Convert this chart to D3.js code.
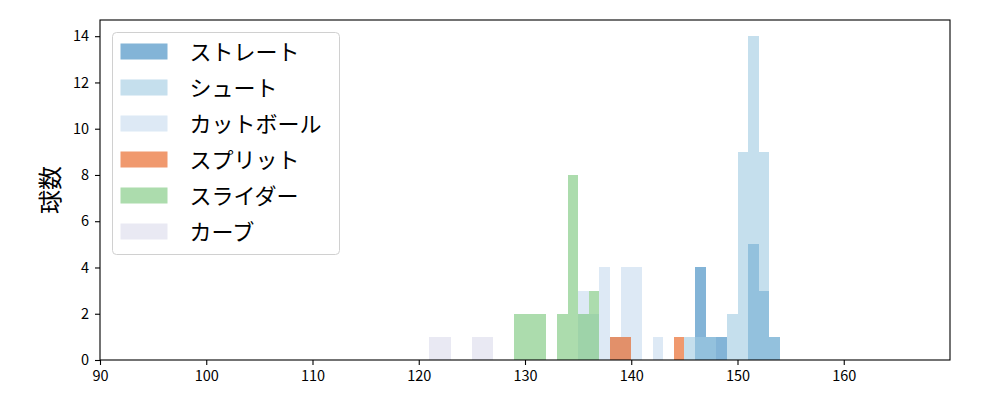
<!DOCTYPE html>
<html>
<head>
<meta charset="utf-8">
<script src="https://cdn.jsdelivr.net/npm/d3@7"></script>
<style>
  body { margin: 0; background: #fff; }
  text { font-family: "Noto Sans CJK JP", "DejaVu Sans", sans-serif; }
</style>
</head>
<body>
<div id="chart"></div>
<script>
// pitch types, in drawing order
var pitchTypes = ["ストレート", "シュート", "カットボール", "スプリット", "スライダー", "カーブ"];
var pitchColors = ["#3182bd", "#9ecae1", "#c6dbef", "#e6550d", "#74c476", "#dadaeb"];

// histogram bins (1 km/h wide, left edge) and counts per pitch type
var straightBins = [146, 147, 148, 151, 152, 153];
var straightCounts = [4, 1, 1, 5, 3, 1];
var shootBins = [145, 146, 147, 149, 150, 151, 152, 153];
var shootCounts = [1, 1, 1, 2, 9, 14, 9, 1];
var cutBins = [135, 136, 137, 138, 139, 140, 142];
var cutCounts = [3, 2, 4, 1, 4, 4, 1];
var splitBins = [138, 139, 144];
var splitCounts = [1, 1, 1];
var sliderBins = [129, 130, 131, 133, 134, 135, 136];
var sliderCounts = [2, 2, 2, 2, 8, 2, 3];
var curveBins = [121, 122, 125, 126];
var curveCounts = [1, 1, 1, 1];

var xTicks = [90, 100, 110, 120, 130, 140, 150, 160];
var yTicks = [0, 2, 4, 6, 8, 10, 12, 14];

var allBins = [straightBins, shootBins, cutBins, splitBins, sliderBins, curveBins];
var allCounts = [straightCounts, shootCounts, cutCounts, splitCounts, sliderCounts, curveCounts];

var svgWidth = 1000;
var svgHeight = 400;
var margin = { top: 20, right: 50, bottom: 40, left: 100 };
var width = svgWidth - margin.left - margin.right;
var height = svgHeight - margin.top - margin.bottom;

var svg = d3.select("#chart")
  .append("svg")
  .attr("width", svgWidth)
  .attr("height", svgHeight);

var chartGroup = svg.append("g")
  .attr("transform", `translate(${margin.left}, ${margin.top})`);

var xScale = d3.scaleLinear().domain([90, 170]).range([0, width]);
var yScale = d3.scaleLinear().domain([0, 14.7]).range([height, 0]);

// bars, one group per pitch type
pitchTypes.forEach(function(name, i) {
  var rows = allBins[i].map(function(b, j) { return { x0: b, x1: b + 1, n: allCounts[i][j] }; });
  chartGroup.append("g")
    .selectAll("rect")
    .data(rows)
    .enter()
    .append("rect")
    .attr("x", d => xScale(d.x0))
    .attr("width", d => xScale(d.x1) - xScale(d.x0))
    .attr("y", d => yScale(d.n))
    .attr("height", d => yScale(0) - yScale(d.n))
    .attr("fill", pitchColors[i])
    .attr("fill-opacity", 0.6)
    .attr("shape-rendering", "crispEdges");
});

// axes
var bottomAxis = d3.axisBottom(xScale).tickValues(xTicks).tickSize(5).tickPadding(6);
var leftAxis = d3.axisLeft(yScale).tickValues(yTicks).tickSize(5).tickPadding(6);

var gx = chartGroup.append("g")
  .attr("transform", `translate(0, ${height})`)
  .call(bottomAxis);
var gy = chartGroup.append("g").call(leftAxis);

[gx, gy].forEach(function(g) {
  g.select(".domain").remove();
  g.selectAll("line").attr("stroke", "#000").attr("stroke-width", 1.1);
  g.selectAll("text").attr("fill", "#000").style("font-size", "14.5px");
});

// frame
chartGroup.append("rect")
  .attr("width", width)
  .attr("height", height)
  .attr("fill", "none")
  .attr("stroke", "#000")
  .attr("stroke-width", 1.1);

// y label
chartGroup.append("text")
  .attr("transform", "rotate(-90)")
  .attr("x", -height / 2)
  .attr("y", -52)
  .attr("text-anchor", "middle")
  .attr("dominant-baseline", "central")
  .style("font-size", "24px")
  .text("球数");

// legend
var legend = chartGroup.append("g").attr("transform", "translate(12.5, 12.5)");
legend.append("rect")
  .attr("width", 227)
  .attr("height", 222)
  .attr("rx", 4)
  .attr("fill", "#fff")
  .attr("fill-opacity", 0.8)
  .attr("stroke", "#d0d0d0");

pitchTypes.forEach(function(name, i) {
  var row = legend.append("g").attr("transform", `translate(8, ${11 + i * 36})`);
  row.append("rect")
    .attr("width", 47)
    .attr("height", 16)
    .attr("fill", pitchColors[i])
    .attr("fill-opacity", 0.6);
  row.append("text")
    .attr("x", 69)
    .attr("y", 6)
    .attr("dominant-baseline", "central")
    .style("font-size", "22px")
    .text(name);
});
</script>
</body>
</html>
